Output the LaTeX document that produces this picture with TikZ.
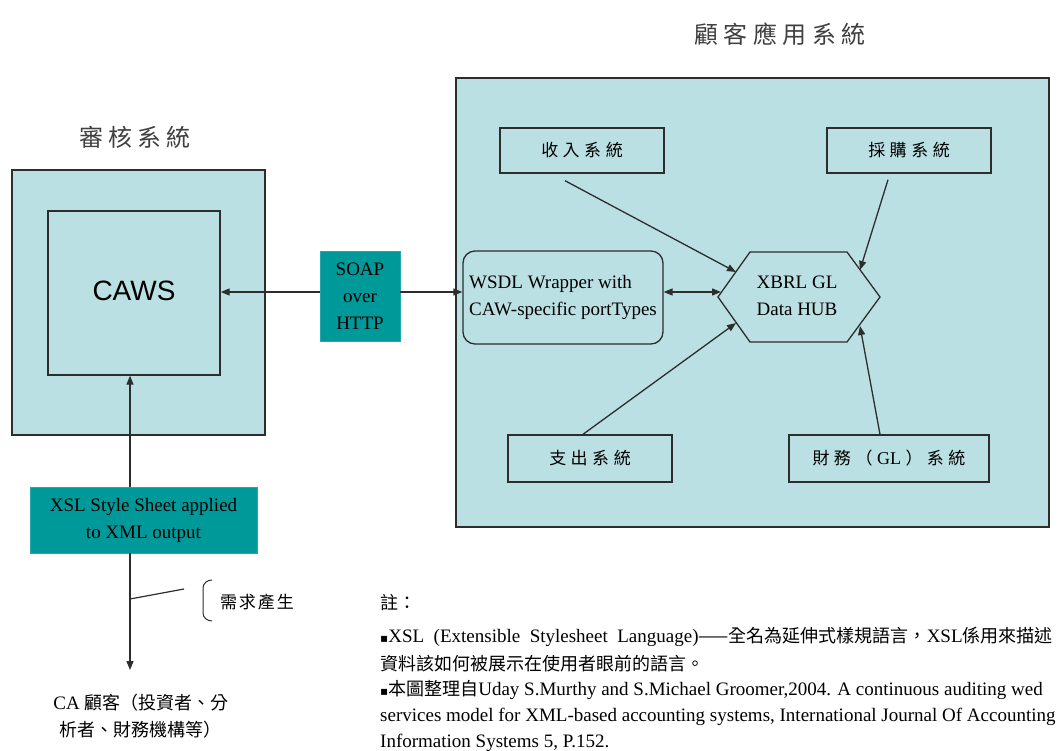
\documentclass[tikz,border=0pt]{standalone}
\usepackage{fontspec}
\setmainfont{Liberation Serif}
\newfontfamily\cjk{Noto Sans CJK TC}
\newfontfamily\arialf{Liberation Sans}
\newfontfamily\dejavu{DejaVu Sans}
\usetikzlibrary{arrows.meta}
\definecolor{lightbg}{RGB}{187,224,227}
\definecolor{tealc}{RGB}{0,153,153}
\definecolor{edgec}{RGB}{45,45,45}
\newcommand\gp{\hspace{4.5pt}}
\newcommand\ga{\hspace{5pt}}
\newcommand\gb{\hspace{5.5pt}}
\newcommand\zh[1]{{\cjk\fontsize{18}{27}\selectfont #1}}
\newcommand\bul{{\dejavu\fontsize{12}{12}\selectfont ▪}}
\begin{document}
\begin{tikzpicture}[x=1pt,y=-1pt,
  box/.style={draw=edgec,line width=1.4pt,fill=lightbg,inner sep=0pt},
  sysbox/.style={draw=edgec,line width=1.4pt,fill=lightbg,inner sep=0pt,
    font=\cjk\fontsize{17}{20}\selectfont},
  tealbox/.style={fill=tealc,draw=tealc!85!white,line width=0.6pt,inner sep=0pt,
    align=center,font=\fontsize{19}{27}\selectfont},
  arr/.style={draw=edgec,line width=1.3pt,-{Triangle[length=9pt,width=7pt]}},
  darr/.style={draw=edgec,line width=1.3pt,{Triangle[length=9pt,width=7pt]}-{Triangle[length=9pt,width=7pt]}},
  ln/.style={draw=edgec,line width=1.2pt},
  ttl/.style={font=\cjk\fontsize{24}{28}\selectfont,text=black!75},
  ser/.style={font=\fontsize{19}{27}\selectfont},
  note/.style={anchor=west,inner sep=0pt,font=\fontsize{19}{27}\selectfont},
]
\useasboundingbox[fill=white] (0,0) rectangle (1061,751);

% ---- left: audit system
\node[ttl] (t1) at (135,137) {審\ga 核\ga 系\ga 統};
\node[box,minimum width=253pt,minimum height=265pt] (audit) at (138.5,302.5) {};
\node[box,minimum width=172pt,minimum height=164pt,
  font=\arialf\fontsize{28}{30}\selectfont] (caws) at (134,293) {\raisebox{4pt}{CAWS}};

% ---- right: client application system
\node[ttl] (t2) at (780,34) {顧\gb 客\gb 應\gb 用\gb 系\gb 統};
\node[box,minimum width=593pt,minimum height=449pt] (client) at (752.5,302.5) {};

\node[sysbox,minimum width=164pt,minimum height=45pt] (shou) at (582,150.5) {收\gp 入\gp 系\gp 統};
\node[sysbox,minimum width=164pt,minimum height=45pt] (cai) at (909,150.5) {採\gp 購\gp 系\gp 統};
\node[sysbox,minimum width=164pt,minimum height=47pt] (zhi) at (590,458.5) {支\gp 出\gp 系\gp 統};
\node[sysbox,minimum width=200pt,minimum height=47pt] (cw) at (889,458.5) {財\gp 務\gp （\gp{\fontsize{18}{20}\selectfont\rmfamily GL}\gp ）\gp 系\gp 統};

\node[draw=edgec,line width=1.3pt,rounded corners=12pt,minimum width=200pt,
  minimum height=93pt,align=left,ser,inner sep=2pt] (wsdl) at (563,297.5)
  {WSDL Wrapper with\\CAW-specific portTypes};

\draw[edgec,line width=1.3pt] (718,297) -- (750,252) -- (847,252) -- (880,297)
  -- (847,342) -- (750,342) -- cycle;
\node[ser,align=center] (hub) at (797,296) {XBRL GL\\Data HUB};
\coordinate (h0) at (721,292);
\coordinate (h1) at (736,272);
\coordinate (h2) at (860,270);
\coordinate (h3) at (736,323);
\coordinate (h4) at (860,326);

% ---- teal boxes
\node[tealbox,minimum width=80pt,minimum height=90pt] (soap) at (360,296.5) {SOAP\\over\\HTTP};
\node[tealbox,minimum width=227pt,minimum height=66pt] (xsl) at (143.5,520) {XSL Style Sheet applied\\to XML output};

% ---- connectors
\coordinate (ly) at (0,292);
\coordinate (vx) at (130,0);
\draw[arr] (soap.west |- ly) -- (caws.east |- ly);
\draw[arr] (soap.east |- ly) -- (wsdl.west |- ly);
\draw[darr] (wsdl.east |- ly) -- (h0);
\draw[arr] ([shift={(-17,7)}]shou.south) -- (h1);
\draw[arr] ([shift={(-21,6)}]cai.south) -- (h2);
\draw[arr] ([shift={(-7,0)}]zhi.north) -- (h3);
\draw[arr] ([shift={(-9,0)}]cw.north) -- (h4);

\draw[arr] (xsl.north -| vx) -- (caws.south -| vx);
\coordinate (tipc) at (130,670);
\draw[arr] (xsl.south -| vx) -- (tipc);
\coordinate (br0) at (130,599);
\coordinate (br1) at (184,589);
\draw[ln] (br0) -- (br1);
\draw[ln,line width=1pt] (212,580) to[out=180,in=90] (203,588) -- (203,613)
  to[out=-90,in=180] (212,621);
\node[font=\cjk\fontsize{17}{20}\selectfont] (need) at (257,602) {需\hspace{2pt}求\hspace{2pt}產\hspace{2pt}生};

\node[align=center,font=\fontsize{19}{27}\selectfont] (cust) at (141,716)
  {CA \zh{顧客（投資者、分}\\\zh{析者、財務機構等）}};

% ---- notes
\node[note] (n0) at (380,603) {\zh{註：}};
\node[note] (n1) at (380,637) {\bul XSL\ \ (Extensible\ \ Stylesheet\ \ Language)\zh{——全名為延伸式樣規語言，}XSL\zh{係用來描述}};
\node[note] (n2) at (380,664) {\zh{資料該如何被展示在使用者眼前的語言。}};
\node[note] (n3) at (380,690) {\bul\zh{本圖整理自}Uday S.Murthy and S.Michael Groomer,2004. A continuous auditing wed};
\node[note] (n4) at (380,717) {services model for XML-based accounting systems, International Journal Of Accounting};
\node[note] (n5) at (380,743) {Information Systems 5, P.152.};
\end{tikzpicture}
\end{document}
